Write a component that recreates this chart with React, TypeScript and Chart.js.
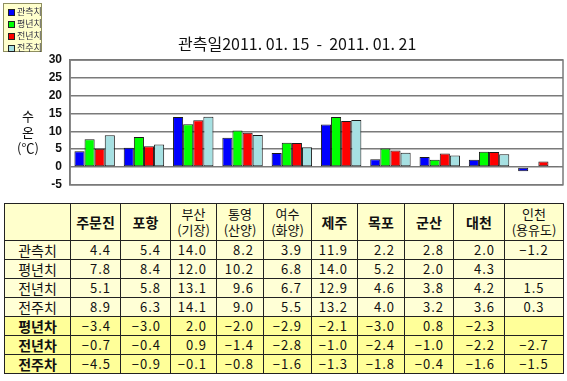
import React, { useEffect, useRef } from "react";
import { Chart, registerables } from "chart.js";

Chart.register(...registerables);

const stations = ["주문진", "포항", "부산(기장)", "통영(산양)", "여수(화양)", "제주", "목포", "군산", "대천", "인천(용유도)"];
const headerLines = [["주문진"], ["포항"], ["부산", "(기장)"], ["통영", "(산양)"], ["여수", "(화양)"], ["제주"], ["목포"], ["군산"], ["대천"], ["인천", "(용유도)"]];
const observed = [4.4, 5.4, 14.0, 8.2, 3.9, 11.9, 2.2, 2.8, 2.0, -1.2];
const normal = [7.8, 8.4, 12.0, 10.2, 6.8, 14.0, 5.2, 2.0, 4.3, null];
const lastYear = [5.1, 5.8, 13.1, 9.6, 6.7, 12.9, 4.6, 3.8, 4.2, 1.5];
const lastWeek = [8.9, 6.3, 14.1, 9.0, 5.5, 13.2, 4.0, 3.2, 3.6, 0.3];
const diffNormal = [-3.4, -3.0, 2.0, -2.0, -2.9, -2.1, -3.0, 0.8, -2.3, null];
const diffYear = [-0.7, -0.4, 0.9, -1.4, -2.8, -1.0, -2.4, -1.0, -2.2, -2.7];
const diffWeek = [-4.5, -0.9, -0.1, -0.8, -1.6, -1.3, -1.8, -0.4, -1.6, -1.5];
const seriesNames = ["관측치", "평년치", "전년치", "전주치"];
const seriesColors = ["#0000ff", "#00ff00", "#ff0000", "#a6e0e2"];
const diffNames = ["평년차", "전년차", "전주차"];
const yTicks = [-5, 0, 5, 10, 15, 20, 25, 30];

const colWidths = [66, 50, 50, 46, 47, 48, 46, 47, 49, 51, 59];
const KR = '"Noto Sans CJK KR", "Noto Sans", sans-serif';

const PLOT = { left: 70, right: 563, top: 60, bottom: 186 };

const fmt = (v: number | null) => (v === null ? "" : v.toFixed(1).replace("-", "−"));

export default function App() {
  const ref = useRef<HTMLCanvasElement | null>(null);

  useEffect(() => {
    if (!ref.current) return;
    const borderPlugin = {
      id: "plotBorder",
      afterDraw(chart: any) {
        const { ctx, chartArea } = chart;
        ctx.save();
        ctx.strokeStyle = "#7a7a7a";
        ctx.lineWidth = 1.5;
        ctx.strokeRect(chartArea.left, chartArea.top, chartArea.right - chartArea.left, chartArea.bottom - chartArea.top);
        ctx.restore();
      },
    };
    const padding = { left: 0, right: 4, top: 60, bottom: 4 };
    const chart = new Chart(ref.current, {
      type: "bar",
      data: {
        labels: stations,
        datasets: [observed, normal, lastYear, lastWeek].map((d, i) => ({
          label: seriesNames[i],
          data: d as any,
          backgroundColor: seriesColors[i],
          borderColor: "#1a1a1a",
          borderWidth: 1,
          borderSkipped: false,
          categoryPercentage: 0.82,
          barPercentage: 1.0,
        })),
      },
      options: {
        animation: false,
        responsive: false,
        maintainAspectRatio: false,
        layout: { padding },
        plugins: { legend: { display: false }, title: { display: false }, tooltip: { enabled: false } },
        scales: {
          x: { display: false },
          y: {
            min: -5,
            max: 30,
            afterBuildTicks(scale: any) {
              scale.ticks = yTicks.map((v) => ({ value: v }));
            },
            afterFit(scale: any) {
              scale.width = 70;
            },
            grid: { color: "#7a7a7a", lineWidth: 1.5, drawTicks: false },
            border: { display: true, color: "#7a7a7a", width: 1.5 },
            ticks: {
              autoSkip: false,
              padding: 8,
              color: "#111",
              font: { family: "'Liberation Sans', Arial, sans-serif", size: 12, weight: "bold" },
            },
          },
        },
      },
      plugins: [borderPlugin],
    });
    const ca = chart.chartArea;
    padding.top += PLOT.top - ca.top;
    padding.bottom += ca.bottom - PLOT.bottom;
    padding.left += PLOT.left - ca.left;
    padding.right += ca.right - PLOT.right;
    (chart.options as any).layout.padding = { ...padding };
    chart.update();
    return () => chart.destroy();
  }, []);

  const cellBase: React.CSSProperties = {
    border: "1px solid #222",
    padding: 0,
    fontFamily: KR,
    fontSize: 13,
    color: "#111",
    lineHeight: "16px",
  };

  const dataRows: { name: string; vals: (number | null)[]; bold: boolean; bg: string }[] = [
    { name: seriesNames[0], vals: observed, bold: false, bg: "#ffffd6" },
    { name: seriesNames[1], vals: normal, bold: false, bg: "#ffffd6" },
    { name: seriesNames[2], vals: lastYear, bold: false, bg: "#ffffd6" },
    { name: seriesNames[3], vals: lastWeek, bold: false, bg: "#ffffd6" },
    { name: diffNames[0], vals: diffNormal, bold: true, bg: "#ffff99" },
    { name: diffNames[1], vals: diffYear, bold: true, bg: "#ffff99" },
    { name: diffNames[2], vals: diffWeek, bold: true, bg: "#ffff99" },
  ];

  return (
    <div style={{ position: "absolute", left: 0, top: 0, width: 567, height: 381, background: "#fff", overflow: "hidden" }}>
      <canvas ref={ref} width={567} height={200} style={{ position: "absolute", left: 0, top: 0, width: 567, height: 200 }} />
      <div
        style={{
          position: "absolute",
          left: 3,
          top: 3,
          width: 37,
          height: 47,
          background: "#ffffcc",
          border: "1px solid #8f8f60",
        }}
      >
        {seriesNames.map((n, i) => (
          <div key={n} style={{ position: "absolute", left: 4, top: 2 + i * 12, height: 12, display: "flex", alignItems: "center" }}>
            <span style={{ width: 5, height: 5, background: seriesColors[i], border: "1px solid #222", marginRight: 2, display: "inline-block" }} />
            <span style={{ fontFamily: KR, fontSize: 9, color: "#334", lineHeight: "12px", whiteSpace: "nowrap" }}>{n}</span>
          </div>
        ))}
      </div>
      <div style={{ position: "absolute", left: 178, top: 33, fontFamily: KR, fontSize: 16, color: "#111", whiteSpace: "pre", lineHeight: "20px" }}>
        {"관측일2011. 01. 15  -  2011. 01. 21"}
      </div>
      <div style={{ position: "absolute", left: 8, top: 108, width: 40, textAlign: "center", fontFamily: KR, fontSize: 13, color: "#111", lineHeight: "16px" }}>
        <div>수</div>
        <div>온</div>
        <div>(℃)</div>
      </div>
      <table
        style={{
          position: "absolute",
          left: 4,
          top: 203,
          borderCollapse: "collapse",
          tableLayout: "fixed",
          width: colWidths.reduce((a, b) => a + b, 0),
        }}
      >
        <colgroup>
          {colWidths.map((w, i) => (
            <col key={i} style={{ width: w }} />
          ))}
        </colgroup>
        <tbody>
          <tr style={{ height: 37 }}>
            <td style={{ ...cellBase, background: "#ffffcc" }} />
            {headerLines.map((lines, i) => (
              <td key={i} style={{ ...cellBase, background: "#ffffcc", textAlign: "center", fontWeight: lines.length === 1 ? "bold" : "normal", fontSize: lines.length === 1 ? 14 : 13 }}>
                {lines.map((l, j) => (
                  <div key={j}>{l}</div>
                ))}
              </td>
            ))}
          </tr>
          {dataRows.map((r) => (
            <tr key={r.name} style={{ height: 19 }}>
              <td style={{ ...cellBase, background: r.bg, textAlign: "center", fontWeight: r.bold ? "bold" : "normal", fontSize: 14 }}>{r.name}</td>
              {r.vals.map((v, i) => (
                <td
                  key={i}
                  style={{
                    ...cellBase,
                    background: r.bg,
                    textAlign: i === 9 ? "center" : "right",
                    paddingRight: i === 9 ? 0 : 9,
                    letterSpacing: 1,
                  }}
                >
                  {fmt(v)}
                </td>
              ))}
            </tr>
          ))}
        </tbody>
      </table>
    </div>
  );
}
